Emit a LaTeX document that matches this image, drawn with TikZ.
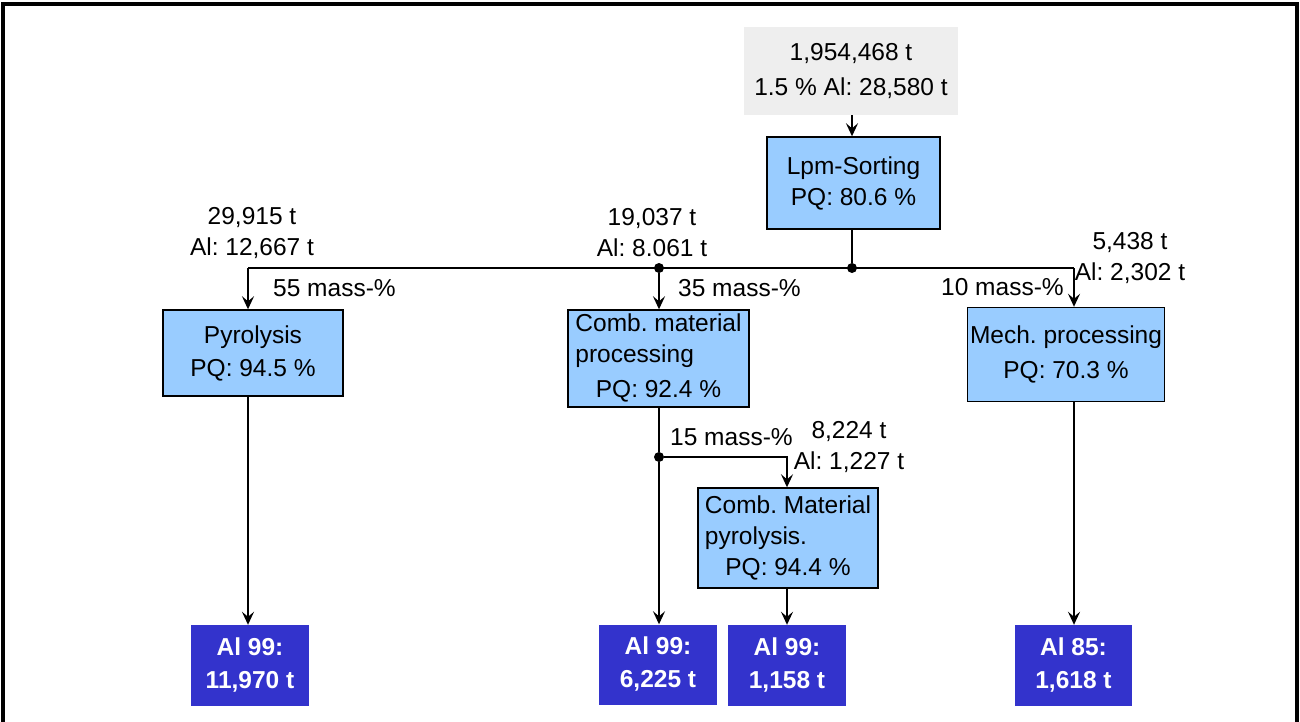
\documentclass[tikz,border=0pt]{standalone}
\usepackage{fontspec}
\setmainfont{Liberation Sans}
\usetikzlibrary{arrows.meta}
\definecolor{procblue}{HTML}{99CCFF}
\definecolor{prodblue}{HTML}{3333CC}
\definecolor{inputgray}{HTML}{EEEEEE}
\frenchspacing

\begin{document}
\begin{tikzpicture}[x=1pt,y=-1pt,
  every node/.style={font=\fontsize{24.5}{31}\selectfont},
  feed/.style={fill=inputgray, inner sep=0pt, align=center},
  proc/.style={draw=black, line width=1.4pt, fill=procblue, inner sep=0pt, align=center},
  prod/.style={fill=prodblue, text=white, inner sep=0pt, align=center,
    font=\fontsize{24.5}{33}\bfseries\selectfont},
  flow/.style={line width=2.6pt, -{Stealth[length=13pt,width=12pt,inset=5pt]}},
  link/.style={line width=2.6pt},
  lbl/.style={inner sep=0pt, align=center},
  junction/.style={circle, fill=black, inner sep=0pt, minimum size=10pt}
]
\useasboundingbox (0,0) rectangle (1300,722);

% outer frame (open towards the bottom edge)
\draw[line width=3.5pt] (3,740) -- (3,4) -- (1297,4) -- (1297,740);

% input and sorting
\node[feed, minimum width=214pt, minimum height=88pt] (feed) at (851,71)
  {1,954,468 t\\[4pt]1.5 \% Al: 28,580 t};
\node[proc, minimum width=173pt, minimum height=92pt] (lpm) at (853.5,183)
  {Lpm-Sorting\\PQ: 80.6 \%};

% processing steps
\node[proc, minimum width=180pt, minimum height=86pt] (pyro) at (253,353)
  {Pyrolysis\\[2pt]PQ: 94.5 \%};
\node[proc, minimum width=181pt, minimum height=97pt] (comb) at (658.5,358.5)
  {\begin{tabular}{@{}l@{}}Comb. material\\processing\\[4pt]\multicolumn{1}{@{}c@{}}{PQ: 92.4 \%}\end{tabular}};
\node[proc, minimum width=197pt, minimum height=94pt] (mech) at (1066,354.5)
  {Mech. processing\\[4pt]PQ: 70.3 \%};
\node[proc, minimum width=180pt, minimum height=100pt] (cpyr) at (788,538)
  {\begin{tabular}{@{}l@{}}Comb. Material\\pyrolysis.\\\multicolumn{1}{@{}c@{}}{PQ: 94.4 \%}\end{tabular}};

% products
\node[prod, minimum width=118pt, minimum height=81pt] (out1) at (250,665.5) {Al 99:\\11,970 t};
\node[prod, minimum width=118pt, minimum height=80pt] (out2) at (658,664.5) {Al 99:\\6,225 t};
\node[prod, minimum width=118pt, minimum height=81pt] (out3) at (787,665.5) {Al 99:\\1,158 t};
\node[prod, minimum width=117pt, minimum height=81pt] (out4) at (1073.5,665.5) {Al 85:\\1,618 t};

% split points
\node[junction] (j0) at (852,268) {};
\node[junction] (j1) at (659,268) {};
\node[junction] (j2) at (659,457) {};
\coordinate (lft) at (248,268);
\coordinate (rgt) at (1074,268);
\coordinate (kink) at (787,457);

% connectors
\draw[flow] (feed.south -| j0) -- (lpm.north -| j0);
\draw[link] (lpm.south -| j0) -- (j0);
\draw[link] (lft) -- (rgt);
\draw[flow] (lft) -- (pyro.north -| lft);
\draw[flow] (j1) -- (comb.north -| j1);
\draw[flow] (rgt) -- (mech.north -| rgt);
\draw[flow] (pyro.south -| lft) -- (out1.north -| lft);
\draw[link] (comb.south -| j2) -- (j2);
\draw[flow] (j2) -- (out2.north -| j2);
\draw[flow] (j2) -- (kink) -- (cpyr.north -| kink);
\draw[flow] (cpyr.south -| kink) -- (out3.north -| kink);
\draw[flow] (mech.south -| rgt) -- (out4.north -| rgt);

% flow labels
\node[lbl] (m1) at (252,233) {29,915 t\\Al: 12,667 t};
\node[lbl] (m2) at (652,233) {19,037 t\\Al: 8.061 t};
\node[lbl] (m3) at (1130,258) {5,438 t\\Al: 2,302 t};
\node[lbl] (m4) at (849,447) {8,224 t\\Al: 1,227 t};
\node[lbl, anchor=west] (p1) at (273,288) {55 mass-\%};
\node[lbl, anchor=west] (p2) at (678,288) {35 mass-\%};
\node[lbl, anchor=west] (p3) at (941,287) {10 mass-\%};
\node[lbl, anchor=west] (p4) at (670,437) {15 mass-\%};
\end{tikzpicture}
\end{document}
